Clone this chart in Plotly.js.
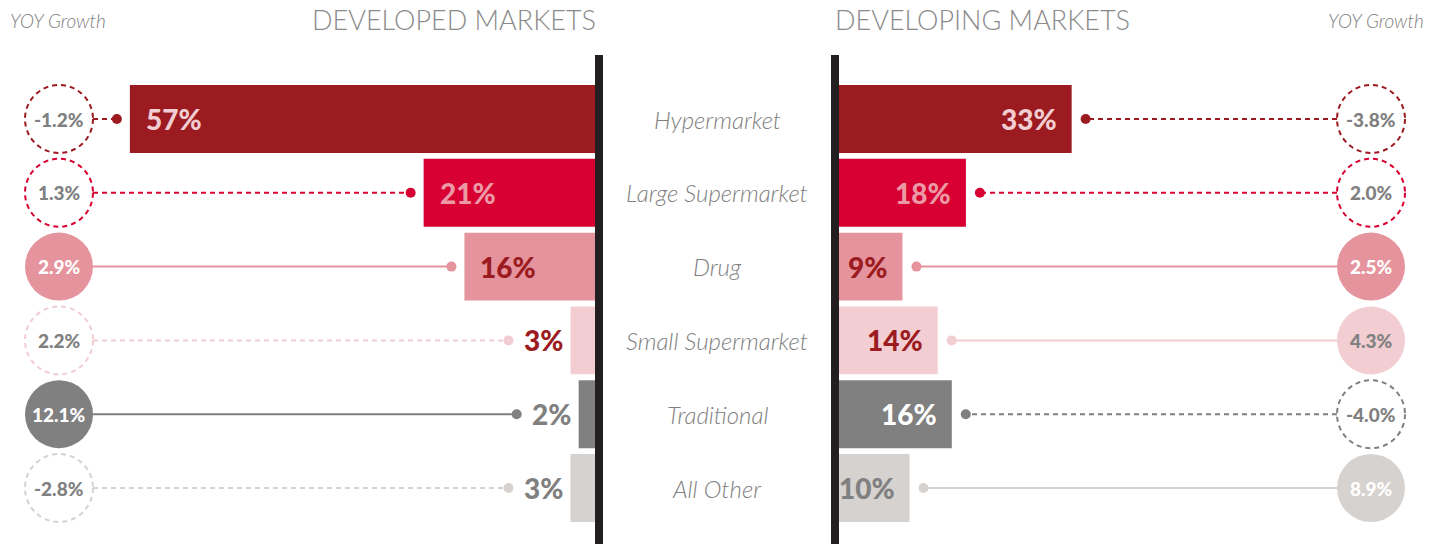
<!DOCTYPE html>
<html><head><meta charset="utf-8">
<script src="https://cdn.plot.ly/plotly-3.0.1.min.js"></script>
<style>html,body{margin:0;padding:0;background:#fff}#chart{width:1442px;height:544px}</style>
</head><body><div id="chart"></div>
<script>
// ---- data ----
const categories = ['Hypermarket', 'Large Supermarket', 'Drug', 'Small Supermarket', 'Traditional', 'All Other'];
const developedShare = [57, 21, 16, 3, 2, 3];
const developingShare = [33, 18, 9, 14, 16, 10];
const developedGrowth = [-1.2, 1.3, 2.9, 2.2, 12.1, -2.8];
const developingGrowth = [-3.8, 2.0, 2.5, 4.3, -4.0, 8.9];
const growthThreshold = 2.4; // growth above this is highlighted (filled circle, solid line)

// ---- styles ----
const colors = ['#9B1B20', '#D80032', '#E5939C', '#F2CDD2', '#808080', '#D6D2CF'];
const insideTextColors = ['#F2CDD2', '#EB9AA5', '#9B1B20', '#9B1B20', '#FFFFFF', '#808080'];
const outsideTextColors = ['#9B1B20', '#9B1B20', '#9B1B20', '#9B1B20', '#808080', '#808080'];
const filledCircleText = ['#FFFFFF', '#FFFFFF', '#FFFFFF', '#808080', '#FFFFFF', '#FFFFFF'];
const GRAY = '#808080';
const FONT = 'Lato, "Open Sans", sans-serif';

const W = 1442, H = 544;
const LB = 595, RB = 839;           // bar baselines (px)
const kL = 8.16, kR = 7.05;         // px per percentage point
const rowTop = 119, pitch = 73.8;   // first row center & row pitch (px)
const circR = 34, circLX = 59, circRX = 1371;

const idx = categories.map((c, i) => i);
const traces = [];
const shapes = [];
const annotations = [];

traces.push({
  type: 'bar', orientation: 'h', x: developedShare, y: idx, xaxis: 'x', yaxis: 'y',
  marker: {color: colors}, width: 0.92, hoverinfo: 'skip'
});
traces.push({
  type: 'bar', orientation: 'h', x: developingShare, y: idx, xaxis: 'x2', yaxis: 'y',
  marker: {color: colors}, width: 0.92, hoverinfo: 'skip'
});

function addSide(share, growth, side) {
  share.forEach((v, i) => {
    const inside = (side === 'L' ? v * kL : v * kR) > 60;
    const filled = growth[i] > growthThreshold;
    const xref = side === 'L' ? 'x' : 'x2';
    // share label
    let ann = {
      xref: xref, yref: 'y', x: v, y: i, text: v + '%', showarrow: false,
      font: {family: FONT, size: 28, weight: 900, color: inside ? insideTextColors[i] : outsideTextColors[i]}
    };
    if (side === 'L') {
      ann.xanchor = inside ? 'left' : 'right';
      ann.xshift = inside ? 14 : -6;
    } else {
      ann.xanchor = inside ? 'right' : 'left';
      ann.xshift = inside ? -13 : 6;
    }
    annotations.push(ann);
    // connector line + dot
    let dotV, edgeV;
    if (side === 'L') {
      dotV = v + (inside ? 13 : 62) / kL;
      edgeV = (LB - (circLX + circR)) / kL;
    } else {
      dotV = v + (inside ? 14 : 62) / kR;
      edgeV = (circRX - circR - RB) / kR;
    }
    traces.push({
      type: 'scatter', mode: 'lines', x: [edgeV, dotV], y: [i, i], xaxis: xref, yaxis: 'y',
      line: {color: colors[i], width: 2, dash: filled ? 'solid' : '5px,4px'}, hoverinfo: 'skip'
    });
    traces.push({
      type: 'scatter', mode: 'markers', x: [dotV], y: [i], xaxis: xref, yaxis: 'y',
      marker: {color: colors[i], size: 10}, hoverinfo: 'skip'
    });
    // growth circle
    const cx = side === 'L' ? circLX : circRX;
    shapes.push({
      type: 'circle', xref: 'paper', x0: (cx - circR) / W, x1: (cx + circR) / W,
      yref: 'y', ysizemode: 'pixel', yanchor: i, y0: -circR, y1: circR,
      fillcolor: filled ? colors[i] : '#FFFFFF',
      line: filled ? {width: 0, color: colors[i]} : {width: 2, color: colors[i], dash: '5px,4px'}
    });
    const g = growth[i].toFixed(1) + '%';
    annotations.push({
      xref: 'paper', yref: 'y', x: cx / W, y: i, text: g, showarrow: false,
      xanchor: 'center', yanchor: 'middle',
      font: {family: FONT, size: 19, weight: 900, color: filled ? filledCircleText[i] : GRAY}
    });
  });
}
addSide(developedShare, developedGrowth, 'L');
addSide(developingShare, developingGrowth, 'R');

// category labels
categories.forEach((c, i) => {
  annotations.push({
    xref: 'paper', yref: 'y', x: 717 / W, y: i, text: c, showarrow: false,
    xanchor: 'center', yanchor: 'middle',
    font: {family: FONT, size: 24, style: 'italic', weight: 300, color: GRAY}
  });
});

// headers
const headY = 1 - 21 / H;
annotations.push({xref: 'paper', yref: 'paper', x: 8 / W, y: headY, xanchor: 'left', yanchor: 'middle', showarrow: false,
  text: 'YOY Growth', font: {family: FONT, size: 19, style: 'italic', weight: 300, color: GRAY}});
annotations.push({xref: 'paper', yref: 'paper', x: 1426 / W, y: headY, xanchor: 'right', yanchor: 'middle', showarrow: false,
  text: 'YOY Growth', font: {family: FONT, size: 19, style: 'italic', weight: 300, color: GRAY}});
annotations.push({xref: 'paper', yref: 'paper', x: 598 / W, y: 1 - 20 / H, xanchor: 'right', yanchor: 'middle', showarrow: false,
  text: 'DEVELOPED MARKETS', font: {family: FONT, size: 27, weight: 300, color: '#8A8A8A'}});
annotations.push({xref: 'paper', yref: 'paper', x: 833 / W, y: 1 - 20 / H, xanchor: 'left', yanchor: 'middle', showarrow: false,
  text: 'DEVELOPING MARKETS', font: {family: FONT, size: 27, weight: 300, color: '#8A8A8A'}});

// axis divider lines
[599, 835].forEach(px => {
  shapes.push({type: 'line', xref: 'paper', yref: 'paper', x0: px / W, x1: px / W, y0: 0, y1: 1 - 55 / H,
    line: {color: '#231F20', width: 8}});
});

const layout = {
  width: W, height: H, margin: {l: 0, r: 0, t: 0, b: 0},
  paper_bgcolor: '#FFFFFF', plot_bgcolor: 'rgba(0,0,0,0)', showlegend: false,
  xaxis: {domain: [0, LB / W], range: [LB / kL, 0], visible: false, fixedrange: true},
  xaxis2: {domain: [RB / W, 1], range: [0, (W - RB) / kR], visible: false, fixedrange: true},
  yaxis: {range: [(H - rowTop) / pitch, -rowTop / pitch], visible: false, fixedrange: true},
  shapes: shapes, annotations: annotations, barmode: 'overlay'
};
Plotly.newPlot('chart', traces, layout, {displayModeBar: false, staticPlot: true});
</script>
</body></html>
